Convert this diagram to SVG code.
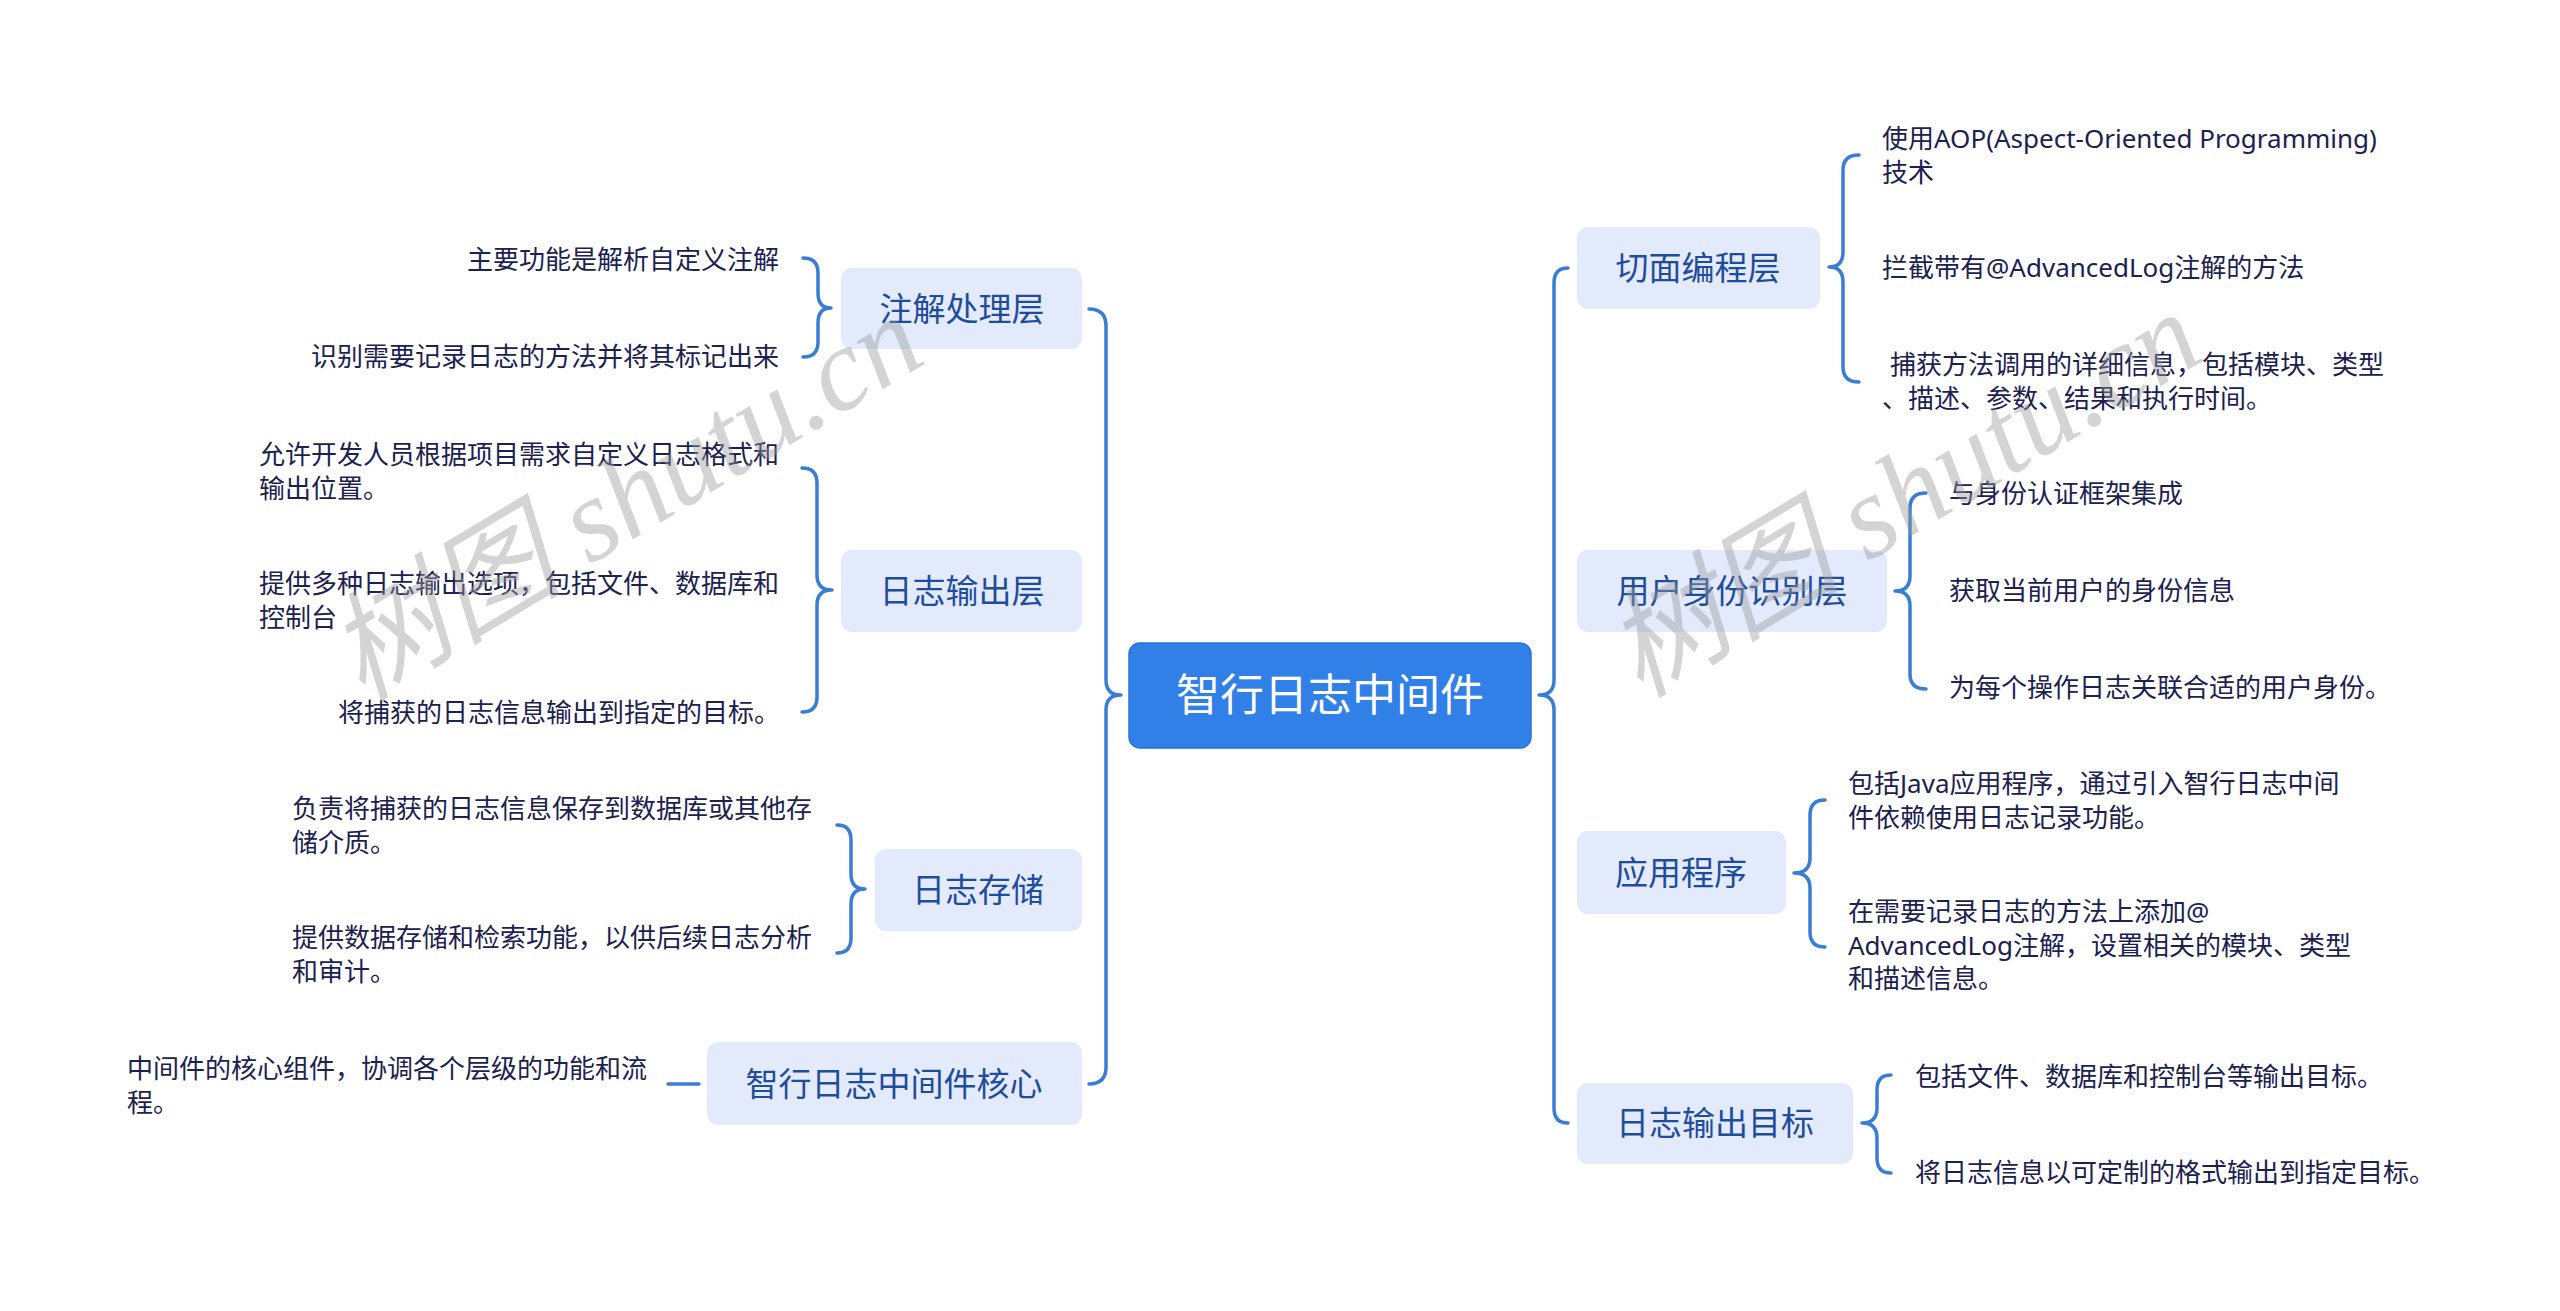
<svg xmlns="http://www.w3.org/2000/svg" width="2560" height="1311" viewBox="0 0 2560 1311">
<style>
.bg{fill:#ffffff}
.conn path,.conn line{fill:none;stroke:#3A7DD6;stroke-width:3.5;stroke-linecap:round;stroke-linejoin:round}
.node rect{fill:#E2EAFB}
.ntext{font-family:"Noto Sans","Noto Sans CJK SC",sans-serif;font-size:33px;fill:#1F4C9C;text-anchor:middle}
.ctext{font-family:"Noto Sans","Noto Sans CJK SC",sans-serif;font-size:26px;fill:#1C2150}
.end{text-anchor:end}
.root rect{fill:#3180E8;stroke:#2B72D4;stroke-width:1.5}
.rtext{font-family:"Noto Sans","Noto Sans CJK SC",sans-serif;font-size:44px;fill:#ffffff;text-anchor:middle}
.wm{font-family:"Liberation Serif","Noto Sans CJK SC",serif;font-style:italic;font-size:118px;fill:#9a9a9a;opacity:0.42}
</style>
<rect class="bg" x="0" y="0" width="2560" height="1311"/>

<g id="connectors" class="conn">
  <!-- left trunk -->
  <path d="M1089,309 Q1106,309 1106,326 V680 Q1106,695 1121,695 Q1106,695 1106,710 V1067 Q1106,1084 1089,1084"/>
  <!-- right trunk -->
  <path d="M1568,268 Q1554,268 1554,283 V680 Q1554,695 1539,695 Q1554,695 1554,710 V1108 Q1554,1123 1568,1123"/>
  <!-- left child brackets -->
  <path d="M803,258 Q818,258 818,273 V293 Q818,308 831,308 Q818,308 818,323 V342 Q818,357 803,357"/>
  <path d="M802,468 Q817,468 817,483 V575 Q817,590 832,590 Q817,590 817,605 V697 Q817,712 802,712"/>
  <path d="M837,825 Q851,825 851,840 V874 Q851,889 865,889 Q851,889 851,904 V938 Q851,953 837,953"/>
  <line x1="668" y1="1084" x2="699" y2="1084"/>
  <!-- right child brackets -->
  <path d="M1859,155 Q1843,155 1843,170 V252 Q1843,267 1829,267 Q1843,267 1843,282 V367 Q1843,382 1859,382"/>
  <path d="M1926,493 Q1910,493 1910,508 V576 Q1910,591 1895,591 Q1910,591 1910,606 V674 Q1910,689 1926,689"/>
  <path d="M1825,800 Q1810,800 1810,815 V858 Q1810,873 1794,873 Q1810,873 1810,888 V932 Q1810,947 1825,947"/>
  <path d="M1891,1075 Q1877,1075 1877,1090 V1108 Q1877,1123 1862,1123 Q1877,1123 1877,1138 V1158 Q1877,1173 1891,1173"/>
</g>

<g id="root" class="root">
  <rect x="1129" y="643" width="402" height="105" rx="11"/>
  <text class="rtext" x="1330" y="711">智行日志中间件</text>
</g>

<g id="n-zhujie" class="node">
  <rect x="841" y="268" width="241" height="81" rx="11"/>
  <text class="ntext" x="962" y="321">注解处理层</text>
</g>
<g id="n-zhujie-c1"><text class="ctext end" x="779" y="269">主要功能是解析自定义注解</text></g>
<g id="n-zhujie-c2"><text class="ctext end" x="779" y="366">识别需要记录日志的方法并将其标记出来</text></g>

<g id="n-shuchu" class="node">
  <rect x="841" y="550" width="241" height="82" rx="11"/>
  <text class="ntext" x="962" y="603">日志输出层</text>
</g>
<g id="n-shuchu-c1"><text class="ctext" x="259" y="464">允许开发人员根据项目需求自定义日志格式和<tspan x="259" dy="33.5">输出位置。</tspan></text></g>
<g id="n-shuchu-c2"><text class="ctext" x="259" y="593">提供多种日志输出选项，包括文件、数据库和<tspan x="259" dy="33.5">控制台</tspan></text></g>
<g id="n-shuchu-c3"><text class="ctext end" x="780" y="722">将捕获的日志信息输出到指定的目标。</text></g>

<g id="n-cunchu" class="node">
  <rect x="875" y="849" width="207" height="82" rx="11"/>
  <text class="ntext" x="978" y="902">日志存储</text>
</g>
<g id="n-cunchu-c1"><text class="ctext" x="292" y="818">负责将捕获的日志信息保存到数据库或其他存<tspan x="292" dy="33.5">储介质。</tspan></text></g>
<g id="n-cunchu-c2"><text class="ctext" x="292" y="947">提供数据存储和检索功能，以供后续日志分析<tspan x="292" dy="33.5">和审计。</tspan></text></g>

<g id="n-hexin" class="node">
  <rect x="707" y="1042" width="375" height="83" rx="11"/>
  <text class="ntext" x="894" y="1096">智行日志中间件核心</text>
</g>
<g id="n-hexin-c1"><text class="ctext" x="127" y="1078">中间件的核心组件，协调各个层级的功能和流<tspan x="127" dy="33.5">程。</tspan></text></g>

<g id="n-qiemian" class="node">
  <rect x="1577" y="227" width="243" height="82" rx="11"/>
  <text class="ntext" x="1698" y="280">切面编程层</text>
</g>
<g id="n-qiemian-c1"><text class="ctext" x="1882" y="148">使用AOP(Aspect-Oriented Programming)<tspan x="1882" dy="33.5">技术</tspan></text></g>
<g id="n-qiemian-c2"><text class="ctext" x="1882" y="277">拦截带有@AdvancedLog注解的方法</text></g>
<g id="n-qiemian-c3"><text class="ctext" x="1890" y="374">捕获方法调用的详细信息，包括模块、类型<tspan x="1882" dy="33.5">、描述、参数、结果和执行时间。</tspan></text></g>

<g id="n-shenfen" class="node">
  <rect x="1577" y="550" width="310" height="82" rx="11"/>
  <text class="ntext" x="1732" y="603">用户身份识别层</text>
</g>
<g id="n-shenfen-c1"><text class="ctext" x="1949" y="503">与身份认证框架集成</text></g>
<g id="n-shenfen-c2"><text class="ctext" x="1949" y="600">获取当前用户的身份信息</text></g>
<g id="n-shenfen-c3"><text class="ctext" x="1949" y="697">为每个操作日志关联合适的用户身份。</text></g>

<g id="n-yingyong" class="node">
  <rect x="1577" y="831" width="209" height="83" rx="11"/>
  <text class="ntext" x="1681" y="885">应用程序</text>
</g>
<g id="n-yingyong-c1"><text class="ctext" x="1848" y="793">包括Java应用程序，通过引入智行日志中间<tspan x="1848" dy="33.5">件依赖使用日志记录功能。</tspan></text></g>
<g id="n-yingyong-c2"><text class="ctext" x="1848" y="921">在需要记录日志的方法上添加@<tspan x="1848" dy="33.5">AdvancedLog注解，设置相关的模块、类型</tspan><tspan x="1848" dy="33.5">和描述信息。</tspan></text></g>

<g id="n-mubiao" class="node">
  <rect x="1577" y="1083" width="276" height="81" rx="11"/>
  <text class="ntext" x="1715" y="1135">日志输出目标</text>
</g>
<g id="n-mubiao-c1"><text class="ctext" x="1915" y="1086">包括文件、数据库和控制台等输出目标。</text></g>
<g id="n-mubiao-c2"><text class="ctext" x="1915" y="1182">将日志信息以可定制的格式输出到指定目标。</text></g>

<text class="wm" x="362" y="702" transform="rotate(-31 362 702)">树图 shutu.cn</text>
<text class="wm" x="1640" y="699" transform="rotate(-31 1640 699)">树图 shutu.cn</text>
</svg>
